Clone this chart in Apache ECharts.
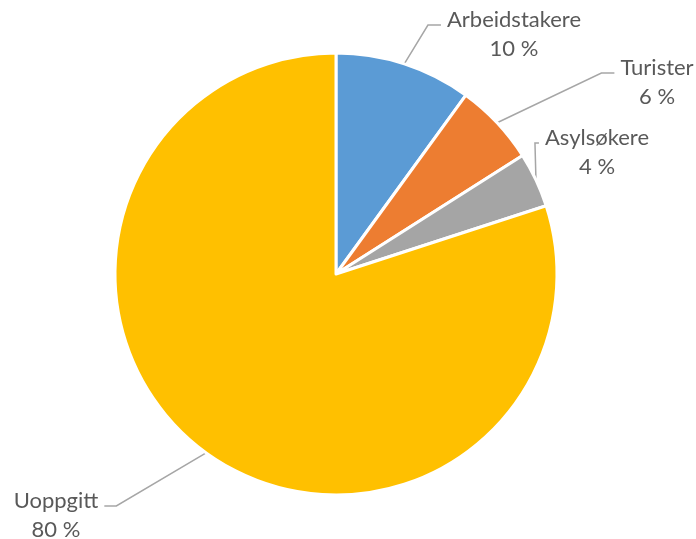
<!DOCTYPE html>
<html>
<head>
<meta charset="utf-8">
<script src="https://cdn.jsdelivr.net/npm/echarts@6/dist/echarts.min.js"></script>
<style>
  html, body { margin: 0; padding: 0; background: #ffffff; }
  #chart { width: 696px; height: 539px; }
</style>
</head>
<body>
<div id="chart"></div>
<script>
// Share of each group, in percent
const categories = ['Arbeidstakere', 'Turister', 'Asylsøkere', 'Uoppgitt'];
const shares = [10, 6, 4, 80];
const sliceColors = ['#5B9BD5', '#ED7D31', '#A5A5A5', '#FFC000'];

// Label placement: centre x of the text block, middle of its first line,
// which side the leader line comes from, and the length of its short flat end
const labelSpots = {
  'Arbeidstakere': { x: 514, y: 20, side: 'right', tail: 13 },
  'Turister':      { x: 657, y: 68, side: 'right', tail: 13 },
  'Asylsøkere':    { x: 597, y: 138, side: 'right', tail: 4 },
  'Uoppgitt':      { x: 56,  y: 501, side: 'left',  tail: 12 }
};
const LINE_H = 29;

const chart = echarts.init(document.getElementById('chart'), null, { renderer: 'canvas' });

chart.setOption({
  animation: false,
  series: [{
    type: 'pie',
    center: [336, 274],
    radius: 221,
    startAngle: 90,
    clockwise: true,
    avoidLabelOverlap: false,
    data: categories.map((name, i) => ({
      name: name,
      value: shares[i],
      itemStyle: { color: sliceColors[i] }
    })),
    itemStyle: { borderColor: '#ffffff', borderWidth: 3 },
    emphasis: { disabled: true },
    label: {
      show: true,
      position: 'outside',
      formatter: p => p.name + '\n' + p.value + ' %',
      color: '#595959',
      fontFamily: 'Lato',
      fontSize: 22,
      lineHeight: LINE_H
    },
    labelLine: {
      show: true,
      length: 20,
      length2: 10,
      lineStyle: { color: '#A6A6A6', width: 1.5 }
    },
    labelLayout: function (params) {
      const spot = labelSpots[categories[params.dataIndex]];
      const halfW = params.labelRect.width / 2;
      const gap = 6;
      const dir = spot.side === 'right' ? -1 : 1;
      const endX = spot.x + dir * (halfW + gap);
      const endY = spot.y + 5;
      const start = params.labelLinePoints ? params.labelLinePoints[0] : [endX, endY];
      return {
        x: spot.x,
        y: spot.y - LINE_H / 2,
        align: 'center',
        verticalAlign: 'top',
        labelLinePoints: [
          [start[0], start[1]],
          [endX + dir * spot.tail, endY],
          [endX, endY]
        ]
      };
    }
  }]
});
</script>
</body>
</html>
